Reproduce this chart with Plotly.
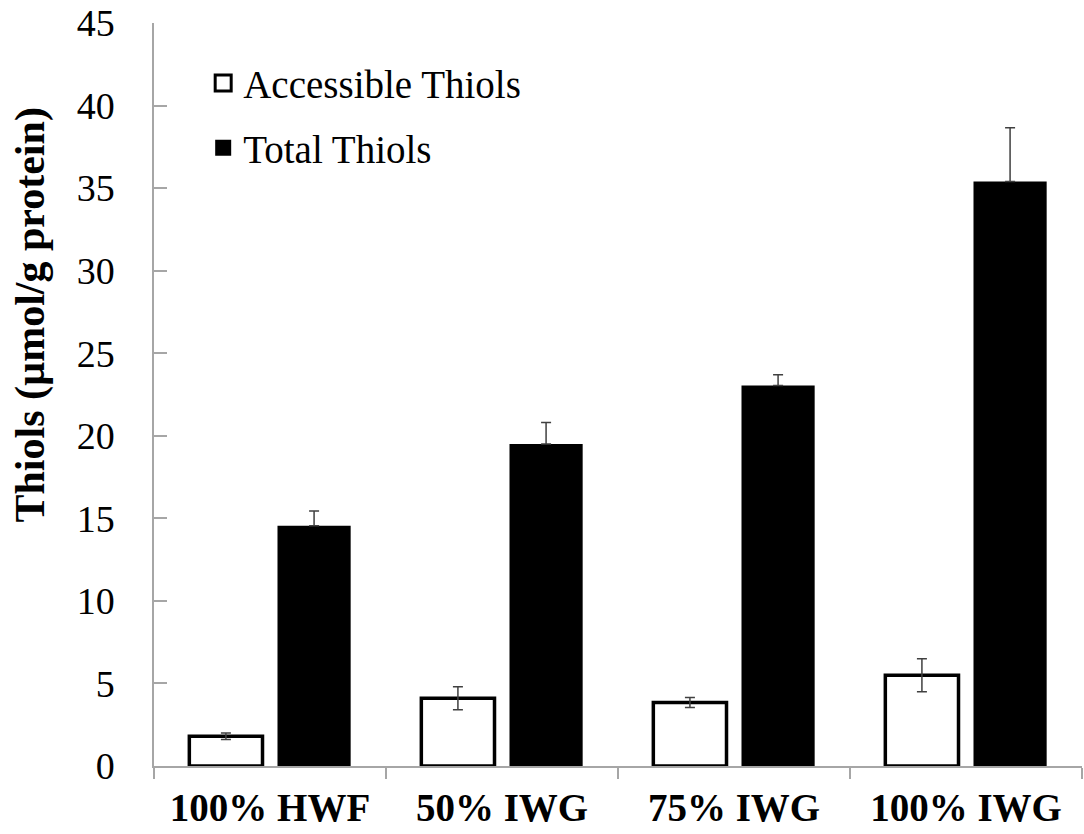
import plotly.graph_objects as go

categories = ["100% HWF", "50% IWG", "75% IWG", "100% IWG"]
accessible = [1.8, 4.1, 3.85, 5.5]
accessible_err = [0.2, 0.7, 0.3, 1.0]
total = [14.55, 19.5, 23.05, 35.4]
total_err = [0.9, 1.3, 0.65, 3.25]
y_ticks = [0, 5, 10, 15, 20, 25, 30, 35, 40, 45]

serif = "Liberation Serif"
axis_grey = "#a6a6a6"

fig = go.Figure()
fig.add_trace(go.Bar(
    x=categories, y=accessible, name="Accessible Thiols",
    marker=dict(color="white", line=dict(color="black", width=3.5)),
    error_y=dict(type="data", array=accessible_err, color="#404040",
                 thickness=1.5, width=5),
    showlegend=False,
))
fig.add_trace(go.Bar(
    x=categories, y=total, name="Total Thiols",
    marker=dict(color="black", line=dict(color="black", width=0)),
    error_y=dict(type="data", symmetric=False, array=total_err,
                 arrayminus=[0] * len(total_err), color="#404040",
                 thickness=1.5, width=5),
    showlegend=False,
))
# legend entries (no data drawn)
fig.add_trace(go.Scatter(
    x=[None], y=[None], mode="markers", name="Accessible Thiols",
    marker=dict(symbol="square", size=17, color="white",
                line=dict(color="black", width=3)),
    legendgroup="a",
))
fig.add_trace(go.Scatter(
    x=[None], y=[None], mode="markers", name="Total Thiols",
    marker=dict(symbol="square", size=18, color="black",
                line=dict(color="black", width=0)),
    legendgroup="b",
))

fig.update_layout(
    width=1084, height=834,
    margin=dict(l=154, r=2, t=23, b=68, autoexpand=False),
    paper_bgcolor="white", plot_bgcolor="white",
    barmode="group", bargap=0.24, bargroupgap=0.17,
    font=dict(family=serif, color="black"),
    showlegend=True,
    legend=dict(x=0.053, y=0.962, xanchor="left", yanchor="top",
                font=dict(size=39, family=serif, color="black"),
                tracegroupgap=11, itemsizing="trace",
                bgcolor="rgba(0,0,0,0)"),
    xaxis=dict(
        automargin=False,
        showline=True, linecolor=axis_grey, linewidth=1.5,
        ticks="outside", tickson="boundaries", ticklen=11, tickcolor=axis_grey,
        tickwidth=1.5,
        tickfont=dict(size=39, family=serif, weight="bold", color="black"),
        ticklabelstandoff=6,
        showgrid=False,
    ),
    yaxis=dict(
        automargin=False,
        range=[0, 45], tickvals=y_ticks,
        showline=True, linecolor=axis_grey, linewidth=1.5,
        ticks="inside", ticklen=13, tickcolor=axis_grey, tickwidth=1.5,
        tickfont=dict(size=38, family=serif, color="black"),
        ticklabelstandoff=30,
        showgrid=False, zeroline=False,
    ),
    annotations=[dict(
        text="Thiols (µmol/g protein)", textangle=-90,
        xref="paper", yref="paper", x=-0.133, y=0.607,
        xanchor="center", yanchor="middle", showarrow=False,
        font=dict(size=42, family=serif, weight="bold", color="black"),
    )],
)

fig.write_html("out.html")
